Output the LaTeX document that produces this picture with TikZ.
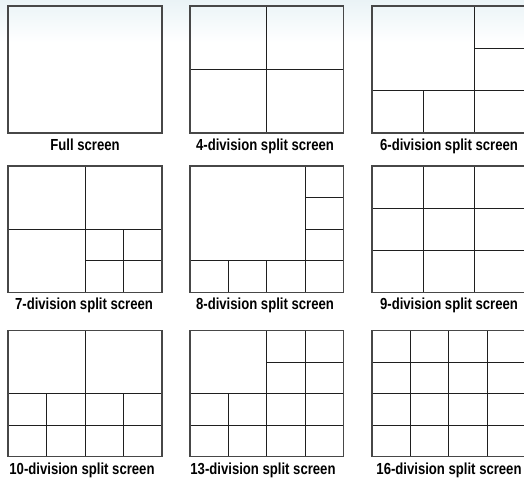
\documentclass[tikz,border=0pt]{standalone}
\usepackage{fontspec}
\newfontfamily\labfont[FakeStretch=0.82]{Liberation Sans}
\begin{document}
\begin{tikzpicture}[x=1pt,y=-1pt,
  scr/.style={draw=black!72, line width=1.1pt},
  div/.style={draw=black!88, line width=0.8pt},
  lab/.style={font=\labfont\bfseries\fontsize{16}{17}\selectfont, anchor=base, inner sep=0pt}]
\useasboundingbox (0,0) rectangle (524,480);
\shade[top color={rgb,255:red,234;green,243;blue,246}, bottom color=white] (0,0) rectangle (524,42);
% ---- row 1 ----
% Full screen
\begin{scope}[shift={(8pt,-6pt)}, x=154pt, y=-127pt]
  \draw[scr] (0,0) rectangle (1,1);
\end{scope}
% 4-division
\begin{scope}[shift={(190pt,-6pt)}, x=153.5pt, y=-127pt]
  \draw[div] (0.5,0) -- (0.5,1) (0,0.5) -- (1,0.5);
  \draw[scr] (0,0) rectangle (1,1);
\end{scope}
% 6-division
\begin{scope}[shift={(372pt,-6pt)}, x=153.5pt, y=-127pt]
  \draw[div] (2/3,0) -- (2/3,1) (0,2/3) -- (1,2/3)
             (1/3,2/3) -- (1/3,1) (2/3,1/3) -- (1,1/3);
  \draw[scr] (0,0) rectangle (1,1);
\end{scope}
% ---- row 2 ----
% 7-division
\begin{scope}[shift={(8pt,-166pt)}, x=154pt, y=-126.3pt]
  \draw[div] (0.5,0) -- (0.5,1) (0,0.5) -- (1,0.5)
             (0.75,0.5) -- (0.75,1) (0.5,0.75) -- (1,0.75);
  \draw[scr] (0,0) rectangle (1,1);
\end{scope}
% 8-division
\begin{scope}[shift={(190pt,-166pt)}, x=153.5pt, y=-126.3pt]
  \draw[div] (0.75,0) -- (0.75,1) (0,0.75) -- (1,0.75)
             (0.25,0.75) -- (0.25,1) (0.5,0.75) -- (0.5,1)
             (0.75,0.25) -- (1,0.25) (0.75,0.5) -- (1,0.5);
  \draw[scr] (0,0) rectangle (1,1);
\end{scope}
% 9-division
\begin{scope}[shift={(372pt,-166pt)}, x=153.5pt, y=-126.3pt]
  \draw[div] (1/3,0) -- (1/3,1) (2/3,0) -- (2/3,1)
             (0,1/3) -- (1,1/3) (0,2/3) -- (1,2/3);
  \draw[scr] (0,0) rectangle (1,1);
\end{scope}
% ---- row 3 ----
% 10-division
\begin{scope}[shift={(8pt,-330.7pt)}, x=154pt, y=-126pt]
  \draw[div] (0.5,0) -- (0.5,1) (0,0.5) -- (1,0.5) (0,0.75) -- (1,0.75)
             (0.25,0.5) -- (0.25,1) (0.75,0.5) -- (0.75,1);
  \draw[scr] (0,0) rectangle (1,1);
\end{scope}
% 13-division
\begin{scope}[shift={(190pt,-330.7pt)}, x=153.5pt, y=-126pt]
  \draw[div] (0.5,0) -- (0.5,1) (0,0.5) -- (1,0.5)
             (0.75,0) -- (0.75,1) (0,0.75) -- (1,0.75)
             (0.5,0.25) -- (1,0.25) (0.25,0.5) -- (0.25,1);
  \draw[scr] (0,0) rectangle (1,1);
\end{scope}
% 16-division
\begin{scope}[shift={(372pt,-330.7pt)}, x=153.5pt, y=-126pt]
  \draw[div] (0.25,0) -- (0.25,1) (0.5,0) -- (0.5,1) (0.75,0) -- (0.75,1)
             (0,0.25) -- (1,0.25) (0,0.5) -- (1,0.5) (0,0.75) -- (1,0.75);
  \draw[scr] (0,0) rectangle (1,1);
\end{scope}
% ---- labels ----
\node[lab] (l1) at (85,150.7) {Full screen};
\node[lab] (l2) at (265,150.7) {4-division split screen};
\node[lab] (l3) at (449,150.7) {6-division split screen};
\node[lab] (l4) at (84,309.7) {7-division split screen};
\node[lab] (l5) at (265,309.7) {8-division split screen};
\node[lab] (l6) at (449,309.7) {9-division split screen};
\node[lab] (l7) at (82,474.5) {10-division split screen};
\node[lab] (l8) at (263,474.5) {13-division split screen};
\node[lab] (l9) at (449,474.5) {16-division split screen};
\end{tikzpicture}
\end{document}
